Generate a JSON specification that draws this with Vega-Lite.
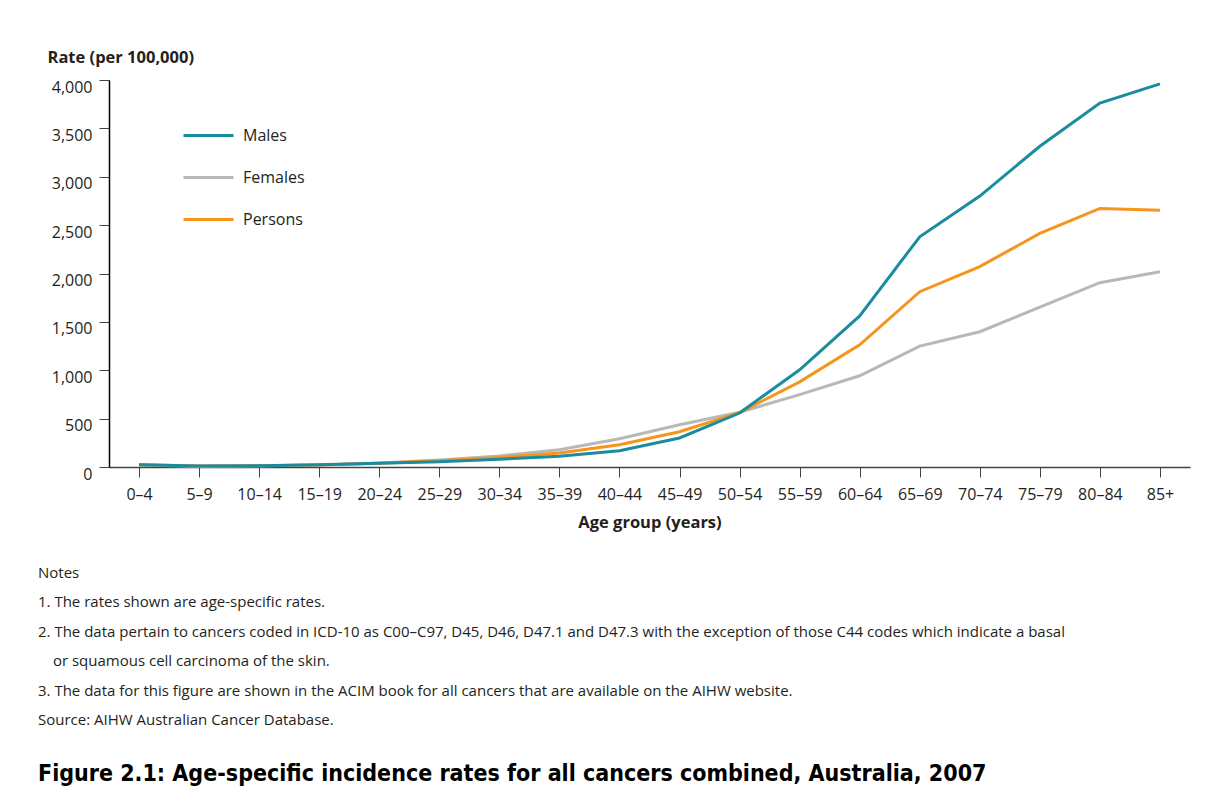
{
  "$schema": "https://vega.github.io/schema/vega-lite/v6.json",
  "width": 1081,
  "height": 387,
  "autosize": {"type": "none"},
  "padding": {"left": 109, "top": 80, "right": 28, "bottom": 342},
  "background": "white",
  "data": {"values": [
    {"age": "0–4", "sex": "Females", "rate": 20},
    {"age": "5–9", "sex": "Females", "rate": 9},
    {"age": "10–14", "sex": "Females", "rate": 12},
    {"age": "15–19", "sex": "Females", "rate": 20},
    {"age": "20–24", "sex": "Females", "rate": 42},
    {"age": "25–29", "sex": "Females", "rate": 72},
    {"age": "30–34", "sex": "Females", "rate": 115},
    {"age": "35–39", "sex": "Females", "rate": 178},
    {"age": "40–44", "sex": "Females", "rate": 292},
    {"age": "45–49", "sex": "Females", "rate": 436},
    {"age": "50–54", "sex": "Females", "rate": 566},
    {"age": "55–59", "sex": "Females", "rate": 748},
    {"age": "60–64", "sex": "Females", "rate": 943},
    {"age": "65–69", "sex": "Females", "rate": 1250},
    {"age": "70–74", "sex": "Females", "rate": 1398},
    {"age": "75–79", "sex": "Females", "rate": 1652},
    {"age": "80–84", "sex": "Females", "rate": 1905},
    {"age": "85+", "sex": "Females", "rate": 2018},
    {"age": "0–4", "sex": "Persons", "rate": 22},
    {"age": "5–9", "sex": "Persons", "rate": 10},
    {"age": "10–14", "sex": "Persons", "rate": 12},
    {"age": "15–19", "sex": "Persons", "rate": 21},
    {"age": "20–24", "sex": "Persons", "rate": 40},
    {"age": "25–29", "sex": "Persons", "rate": 64},
    {"age": "30–34", "sex": "Persons", "rate": 98},
    {"age": "35–39", "sex": "Persons", "rate": 145},
    {"age": "40–44", "sex": "Persons", "rate": 230},
    {"age": "45–49", "sex": "Persons", "rate": 365},
    {"age": "50–54", "sex": "Persons", "rate": 562},
    {"age": "55–59", "sex": "Persons", "rate": 880},
    {"age": "60–64", "sex": "Persons", "rate": 1262},
    {"age": "65–69", "sex": "Persons", "rate": 1812},
    {"age": "70–74", "sex": "Persons", "rate": 2072},
    {"age": "75–79", "sex": "Persons", "rate": 2414},
    {"age": "80–84", "sex": "Persons", "rate": 2673},
    {"age": "85+", "sex": "Persons", "rate": 2655},
    {"age": "0–4", "sex": "Males", "rate": 24},
    {"age": "5–9", "sex": "Males", "rate": 11},
    {"age": "10–14", "sex": "Males", "rate": 13},
    {"age": "15–19", "sex": "Males", "rate": 22},
    {"age": "20–24", "sex": "Males", "rate": 38},
    {"age": "25–29", "sex": "Males", "rate": 55},
    {"age": "30–34", "sex": "Males", "rate": 80},
    {"age": "35–39", "sex": "Males", "rate": 110},
    {"age": "40–44", "sex": "Males", "rate": 168},
    {"age": "45–49", "sex": "Males", "rate": 300},
    {"age": "50–54", "sex": "Males", "rate": 558},
    {"age": "55–59", "sex": "Males", "rate": 1005},
    {"age": "60–64", "sex": "Males", "rate": 1561},
    {"age": "65–69", "sex": "Males", "rate": 2380},
    {"age": "70–74", "sex": "Males", "rate": 2800},
    {"age": "75–79", "sex": "Males", "rate": 3315},
    {"age": "80–84", "sex": "Males", "rate": 3762},
    {"age": "85+", "sex": "Males", "rate": 3960}
  ]},
  "title": {
    "text": ["Notes", "1. The rates shown are age-specific rates.", "2. The data pertain to cancers coded in ICD-10 as C00–C97, D45, D46, D47.1 and D47.3 with the exception of those C44 codes which indicate a basal", "\u2800 or squamous cell carcinoma of the skin.", "3. The data for this figure are shown in the ACIM book for all cancers that are available on the AIHW website.", "Source: AIHW Australian Cancer Database."],
    "orient": "bottom",
    "anchor": "start",
    "frame": "bounds",
    "dx": -9,
    "offset": 35,
    "font": "Open Sans",
    "fontSize": 15,
    "fontWeight": "normal",
    "lineHeight": 29.5,
    "color": "#231f20",
    "subtitle": "Figure 2.1: Age-specific incidence rates for all cancers combined, Australia, 2007",
    "subtitleFont": "DejaVu Sans Condensed, Roboto, sans-serif",
    "subtitleFontSize": 23,
    "subtitleFontWeight": "bold",
    "subtitleColor": "#000000",
    "subtitlePadding": 35
  },
  "mark": {"type": "line", "strokeWidth": 3},
  "encoding": {
    "x": {
      "field": "age", "type": "ordinal", "sort": null,
      "scale": {"type": "point", "padding": 0.5},
      "axis": {
        "title": "Age group (years)",
        "labelAngle": 0,
        "labelFont": "Open Sans", "labelFontSize": 16, "labelColor": "#231f20",
        "labelPadding": 9,
        "tickSize": 10, "tickColor": "#444444", "domainColor": "#444444", "domainWidth": 1.5,
        "titleFont": "Open Sans", "titleFontSize": 16.5, "titleFontWeight": "bold", "titleColor": "#231f20",
        "titlePadding": 12
      }
    },
    "y": {
      "field": "rate", "type": "quantitative",
      "scale": {"domain": [0, 4000], "nice": false},
      "axis": {
        "title": "Rate (per 100,000)",
        "values": [0, 500, 1000, 1500, 2000, 2500, 3000, 3500, 4000],
        "format": ",.0f",
        "grid": false,
        "labelFont": "Open Sans", "labelFontSize": 16, "labelColor": "#231f20",
        "labelPadding": 7, "labelOffset": 7,
        "tickSize": 10, "tickColor": "#444444", "domainColor": "#000000", "domainWidth": 1.5,
        "titleFont": "Open Sans", "titleFontSize": 16.5, "titleFontWeight": "bold", "titleColor": "#231f20",
        "titleAngle": 0, "titleAlign": "left", "titleBaseline": "alphabetic",
        "titleX": -62, "titleY": -18
      }
    },
    "color": {
      "field": "sex", "type": "nominal",
      "scale": {"domain": ["Males", "Females", "Persons"], "range": ["#1a8c9e", "#b8b8b8", "#f7941d"]},
      "legend": {
        "title": null,
        "orient": "none",
        "legendX": 73,
        "legendY": 29,
        "symbolType": "stroke",
        "symbolSize": 2500,
        "symbolStrokeWidth": 3,
        "rowPadding": 7,
        "labelOffset": 8,
        "labelFont": "Open Sans", "labelFontSize": 16, "labelColor": "#231f20"
      }
    }
  },
  "config": {"view": {"stroke": null}}
}
